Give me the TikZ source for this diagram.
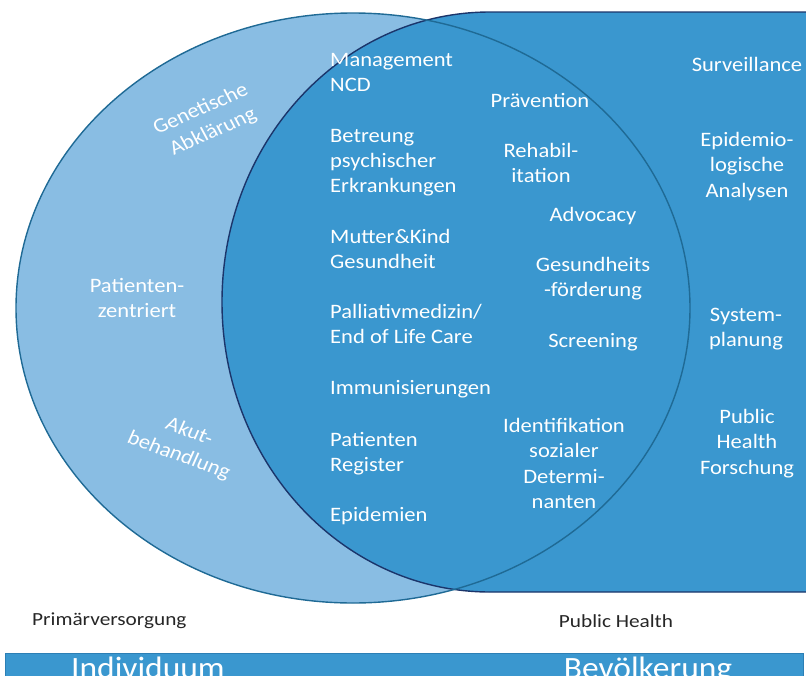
\documentclass[tikz,border=0pt]{standalone}
\usepackage{fontspec}
\setmainfont{Carlito}
\usepackage{tikz}

\definecolor{pvblue}{HTML}{89BDE3}
\definecolor{phblue}{HTML}{3A97CF}
\definecolor{pvline}{HTML}{1F6A95}
\definecolor{phline}{HTML}{1B356B}
\definecolor{barline}{HTML}{2C7FB5}

\tikzset{
    fld/.style = {text=white, font=\fontsize{20.5}{25.3}\selectfont, inner sep=0pt,
                  align=center, xscale=1.1, transform shape},
    fldl/.style = {fld, align=left},
    capt/.style = {text=black!85, font=\fontsize{18.5}{22}\selectfont, inner sep=0pt,
                   xscale=1.15, transform shape},
    bartxt/.style = {text=white, font=\fontsize{31}{31}\selectfont, inner sep=0pt,
                     xscale=1.08, transform shape}
}

\begin{document}
\begin{tikzpicture}[x=1pt, y=-1pt]
\useasboundingbox (0,0) rectangle (806,675);

% Primaerversorgung
\fill[pvblue] (353,308) ellipse [x radius=337, y radius=295];
% Public Health
\fill[phblue] (840,12) -- (490,12) arc [start angle=270, end angle=90, x radius=268, y radius=290]
    -- (840,592) -- cycle;
\draw[phline, line width=1.4pt]
    (840,12) -- (490,12) arc [start angle=270, end angle=90, x radius=268, y radius=290]
    -- (840,592);
\draw[pvline, line width=1.4pt] (353,308) ellipse [x radius=337, y radius=295];

% left
\node[fld, rotate=26] (genet) at (207,121) {Genetische\\Abklärung};
\node[fld, anchor=north] (patz) at (137,278) {Patienten-\\zentriert};
\node[fld, rotate=-22] (akut) at (184,444) {Akut-\\behandlung};

% overlap
\node[fldl, anchor=north west] (mgmt) at (330,53) {Management\\NCD};
\node[fldl, anchor=north west] (psych) at (330,129) {Betreung\\psychischer\\Erkrankungen};
\node[fldl, anchor=north west] (mutter) at (330,229) {Mutter\&Kind\\Gesundheit};
\node[fldl, anchor=north west] (palliativ) at (330,304) {Palliativmedizin/\\End of Life Care};
\node[fldl, anchor=north west] (immun) at (330,380) {Immunisierungen};
\node[fldl, anchor=north west] (register) at (330,432) {Patienten\\Register};
\node[fldl, anchor=north west] (epidem) at (330,507) {Epidemien};

\node[fld, anchor=north] (praev) at (540,93) {Prävention};
\node[fld, anchor=north] (rehab) at (541,143) {Rehabil-\\itation};
\node[fld, anchor=north] (advoc) at (593,207) {Advocacy};
\node[fld, anchor=north] (gesf) at (593,257) {Gesundheits\\-förderung};
\node[fld, anchor=north] (screen) at (593,333) {Screening};
\node[fld, anchor=north] (ident) at (564,418) {Identifikation\\sozialer\\Determi-\\nanten};

% right
\node[fld, anchor=north] (surv) at (747,57) {Surveillance};
\node[fld, anchor=north] (epian) at (747,132) {Epidemio-\\logische\\Analysen};
\node[fld, anchor=north] (sysplan) at (746,308) {System-\\planung};
\node[fld, anchor=north] (phf) at (747,409) {Public\\Health\\Forschung};

% captions
\node[capt, anchor=north west] (prim) at (32,613) {Primärversorgung};
\node[capt, anchor=north] (ph) at (616,614) {Public Health};

% bar
\filldraw[fill=phblue, draw=barline, line width=1pt] (5,653) rectangle (803,690);
\node[bartxt, anchor=north] (indiv) at (148,657) {Individuum};
\node[bartxt, anchor=north] (bevoelk) at (648,657) {Bevölkerung};
\end{tikzpicture}
\end{document}
